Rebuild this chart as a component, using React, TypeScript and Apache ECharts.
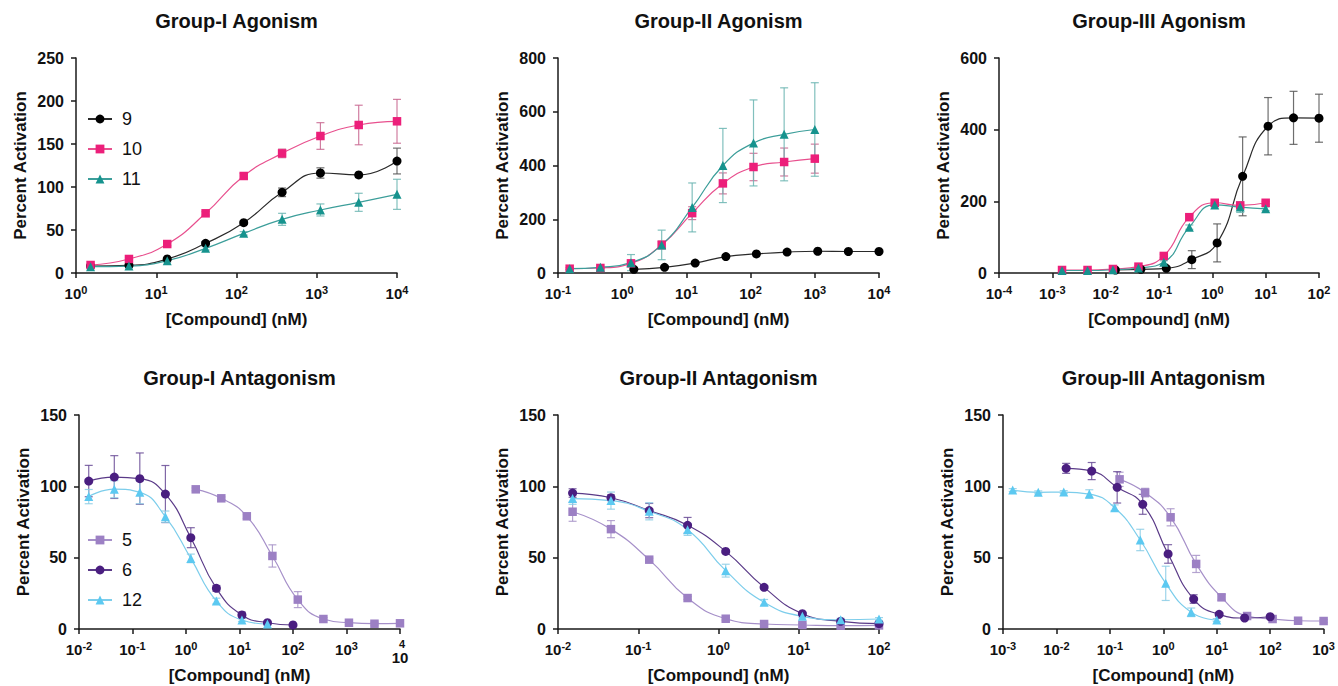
import React, { useEffect, useRef } from 'react';
import * as echarts from 'echarts';

const FONT = "'Liberation Sans', Arial, Helvetica, sans-serif";

// ---------- data ----------
// 3-fold dilution series of concentrations (nM)
const conc10000 = [1.52, 4.57, 13.7, 41.2, 123, 370, 1111, 3333, 10000];
const conc1000 = [0.152, 0.457, 1.37, 4.12, 12.3, 37.0, 111, 333, 1000];
const conc100 = [0.0152, 0.0457, 0.137, 0.412, 1.23, 3.70, 11.1, 33.3, 100];
const conc10 = [0.00152, 0.00457, 0.0137, 0.0412, 0.123, 0.370, 1.11, 3.33, 10];

const panelTitles = [
  'Group-I Agonism', 'Group-II Agonism', 'Group-III Agonism',
  'Group-I Antagonism', 'Group-II Antagonism', 'Group-III Antagonism',
];
const xMinExp = [0, -1, -4, -2, -2, -3];
const xMaxExp = [4, 4, 2, 4, 2, 3];
const yMaxes = [250, 800, 600, 150, 150, 150];
const ySteps = [50, 200, 200, 50, 50, 50];
const xAxisName = '[Compound] (nM)';
const yAxisName = 'Percent Activation';

// Group-I Agonism
const gIAgo9 = [8.1, 8.9, 16.3, 34.5, 58.5, 93.8, 116.3, 114, 130.2];
const gIAgo9Err = [1, 1, 1.5, 2, 2, 5, 6, 0, 15];
const gIAgo10 = [9.3, 16.3, 33.7, 69.4, 112.8, 139.1, 159.3, 172.1, 176.4];
const gIAgo10Err = [1, 1.5, 2, 2, 3, 5, 15.5, 23, 25.5];
const gIAgo11 = [7.4, 8.1, 14.3, 28.7, 46.1, 62.4, 73.3, 82.2, 91.5];
const gIAgo11Err = [1, 1, 1.5, 2, 2, 7, 7, 10.5, 17.5];

// Group-II Agonism
const gIIAgo9 = [13.7, 21, 37, 61, 71, 78, 81, 80, 80];
const gIIAgo9Err = [2, 2, 3, 3, 3, 3, 3, 3, 3];
const gIIAgo10 = [16, 18.7, 36, 104.5, 222.7, 333.4, 394.4, 413, 425.5];
const gIIAgo10Err = [3, 3, 8, 15, 24, 39, 51, 52, 54];
const gIIAgo11 = [16, 21, 38.6, 104.5, 244, 400, 484, 516, 534];
const gIIAgo11Err = [3, 5, 30, 55, 91, 138, 160, 173, 174];

// Group-III Agonism
const gIIIAgo9 = [8.4, 10.3, 13, 37.3, 84, 269.7, 409.6, 433, 432];
const gIIIAgo9Err = [2, 2, 3, 25, 53, 110, 80, 74, 67];
const gIIIAgo10 = [8.4, 8.4, 11.2, 17.7, 47.6, 155.8, 196, 188.5, 196];
const gIIIAgo10Err = [2, 2, 2, 3, 5, 6, 5, 5, 4];
const gIIIAgo11 = [7, 7, 9, 14, 30, 128, 190, 184, 179];
const gIIIAgo11Err = [2, 2, 2, 2, 4, 6, 5, 15, 5];

// Group-I Antagonism
const gIAnt5 = [97.9, 91.6, 79, 51.2, 20.6, 7, 4.4, 3.7, 4];
const gIAnt5Err = [1, 1, 1.5, 7.8, 5.6, 1, 1, 1, 1];
const gIAnt6 = [103.7, 106.5, 105.4, 94.6, 64, 28.5, 9.8, 4.4, 2.8];
const gIAnt6Err = [11, 15, 18, 20, 7, 2, 2, 1, 1];
const gIAnt12 = [92.8, 98, 95.8, 78.7, 49.5, 19.6, 6.3, 3.5];
const gIAnt12Err = [5, 6, 8, 4, 3, 2, 1, 1];

// Group-II Antagonism
const gIIAnt5 = [82.2, 70, 48.6, 21.7, 7.2, 3.5, 2.8, 2.3, 2.5];
const gIIAnt5Err = [6.7, 6, 1, 1, 1, 1, 1, 1, 1];
const gIIAnt6 = [95.3, 92, 83, 72.7, 54.4, 29.2, 10.7, 5.4, 3.7];
const gIIAnt6Err = [3, 2, 5, 5.5, 1, 1, 1, 1, 1];
const gIIAnt12 = [91.4, 90, 82.5, 69.6, 40.9, 18.7, 8.9, 6.5, 7];
const gIIAnt12Err = [4, 6, 6, 4, 4.5, 2, 1, 1, 1];

// Group-III Antagonism
const gIIIAnt5 = [104.9, 95.6, 78.3, 45.6, 22.2, 9.1, 7, 5.8, 5.6];
const gIIIAnt5Err = [5, 3, 6, 6, 2, 1, 1, 1, 1];
const gIIIAnt6 = [112.6, 110.7, 99.3, 87.4, 52.6, 21, 10.3, 7.7, 8.6];
const gIIIAnt6Err = [3.5, 6, 11, 7, 6.5, 3, 1, 1, 1];
const gIIIAnt12 = [97.4, 95.8, 96, 94.6, 85, 62.4, 32, 11.7, 6.3];
const gIIIAnt12Err = [1, 1, 1, 3, 2, 7.5, 12, 3, 1];

const legendTop = ['9', '10', '11'];
const legendBottom = ['5', '6', '12'];

// ---------- styles ----------
const STYLE: Record<string, { color: string; curve: string; err: string; symbol: string; size: number }> = {
  '9': { color: '#000000', curve: '#2a2a2a', err: '#555555', symbol: 'circle', size: 9 },
  '10': { color: '#EC1F7A', curve: '#E8508E', err: '#C8668F', symbol: 'rect', size: 8.5 },
  '11': { color: '#16938E', curve: '#3C9E9A', err: '#6BB5B2', symbol: 'triangle', size: 9 },
  '5': { color: '#9C80C4', curve: '#A690C9', err: '#A894C8', symbol: 'rect', size: 8.5 },
  '6': { color: '#4A1E80', curve: '#5A3A88', err: '#6A4C96', symbol: 'circle', size: 9 },
  '12': { color: '#5CC9F1', curve: '#7CCDEB', err: '#8CCDE5', symbol: 'triangle', size: 9 },
};

type SeriesDef = { name: string; conc: number[]; mean: number[]; err: number[] };

const panels: SeriesDef[][] = [
  [
    { name: '9', conc: conc10000, mean: gIAgo9, err: gIAgo9Err },
    { name: '10', conc: conc10000, mean: gIAgo10, err: gIAgo10Err },
    { name: '11', conc: conc10000, mean: gIAgo11, err: gIAgo11Err },
  ],
  [
    { name: '9', conc: conc10000, mean: gIIAgo9, err: gIIAgo9Err },
    { name: '10', conc: conc1000, mean: gIIAgo10, err: gIIAgo10Err },
    { name: '11', conc: conc1000, mean: gIIAgo11, err: gIIAgo11Err },
  ],
  [
    { name: '9', conc: conc100, mean: gIIIAgo9, err: gIIIAgo9Err },
    { name: '10', conc: conc10, mean: gIIIAgo10, err: gIIIAgo10Err },
    { name: '11', conc: conc10, mean: gIIIAgo11, err: gIIIAgo11Err },
  ],
  [
    { name: '5', conc: conc10000, mean: gIAnt5, err: gIAnt5Err },
    { name: '6', conc: conc100, mean: gIAnt6, err: gIAnt6Err },
    { name: '12', conc: conc100, mean: gIAnt12, err: gIAnt12Err },
  ],
  [
    { name: '5', conc: conc100, mean: gIIAnt5, err: gIIAnt5Err },
    { name: '6', conc: conc100, mean: gIIAnt6, err: gIIAnt6Err },
    { name: '12', conc: conc100, mean: gIIAnt12, err: gIIAnt12Err },
  ],
  [
    { name: '5', conc: conc1000, mean: gIIIAnt5, err: gIIIAnt5Err },
    { name: '6', conc: conc100, mean: gIIIAnt6, err: gIIIAnt6Err },
    { name: '12', conc: conc10, mean: gIIIAnt12, err: gIIIAnt12Err },
  ],
];

const GRIDS = [
  { left: 76, top: 58, width: 321, height: 215 },
  { left: 558, top: 58, width: 321, height: 215 },
  { left: 999, top: 58, width: 320, height: 215 },
  { left: 79, top: 415, width: 321, height: 214 },
  { left: 558, top: 415, width: 321, height: 214 },
  { left: 1003, top: 415, width: 321, height: 214 },
];

function errRender(color: string) {
  return (params: any, api: any) => {
    const x = api.value(0);
    const lo = api.value(1);
    const hi = api.value(2);
    if (hi - lo <= 0) return null;
    const a = api.coord([x, hi]);
    const b = api.coord([x, lo]);
    const w = 4;
    const style = { stroke: color, lineWidth: 1.2, opacity: 0.85 };
    return {
      type: 'group',
      children: [
        { type: 'line', shape: { x1: a[0], y1: a[1], x2: b[0], y2: b[1] }, style },
        { type: 'line', shape: { x1: a[0] - w, y1: a[1], x2: a[0] + w, y2: a[1] }, style },
        { type: 'line', shape: { x1: b[0] - w, y1: b[1], x2: b[0] + w, y2: b[1] }, style },
      ],
    };
  };
}

function buildOption() {
  const axisColor = '#1a1a1a';
  const grid = GRIDS.map((g) => ({ ...g, containLabel: false }));
  const title = panelTitles.map((t, i) => ({
    text: t,
    left: GRIDS[i].left + GRIDS[i].width / 2,
    top: i < 3 ? 11 : 368,
    padding: 0,
    textAlign: 'center',
    textStyle: { fontFamily: FONT, fontSize: 20, fontWeight: 'bold', color: '#111' },
  }));
  const xAxis = panelTitles.map((_, i) => ({
    type: 'log',
    logBase: 10,
    gridIndex: i,
    min: Math.pow(10, xMinExp[i]),
    max: Math.pow(10, xMaxExp[i]),
    interval: 1,
    name: xAxisName,
    nameLocation: 'middle',
    nameGap: 38,
    nameTextStyle: { fontFamily: FONT, fontSize: 17, fontWeight: 'bold', color: '#111' },
    axisLine: { show: true, lineStyle: { color: axisColor, width: 1.5 } },
    axisTick: { show: true, length: 5, lineStyle: { color: axisColor, width: 1.5 } },
    minorTick: { show: false },
    splitLine: { show: false },
    axisLabel: {
      margin: 11,
      fontFamily: FONT,
      fontSize: 15,
      fontWeight: 'bold',
      color: '#111',
      formatter: (v: number) => {
        const e = Math.round(Math.log10(v));
        if (i === 3 && e === 4) return '{t|4}\n{b|10}';
        return '{b|10}{s|' + e + '}';
      },
      rich: {
        b: { fontFamily: FONT, fontSize: 15, fontWeight: 'bold', color: '#111', lineHeight: 17, verticalAlign: 'bottom' },
        s: { fontFamily: FONT, fontSize: 11, fontWeight: 'bold', color: '#111', lineHeight: 17, verticalAlign: 'top', padding: [0, 0, 6, 0] },
        t: { fontFamily: FONT, fontSize: 11, fontWeight: 'bold', color: '#111', lineHeight: 8, padding: [0, 0, 0, 4] },
      },
    },
  }));
  const yAxis = panelTitles.map((_, i) => ({
    type: 'value',
    gridIndex: i,
    min: 0,
    max: yMaxes[i],
    interval: ySteps[i],
    name: yAxisName,
    nameLocation: 'middle',
    nameGap: 47,
    nameTextStyle: { fontFamily: FONT, fontSize: 17, fontWeight: 'bold', color: '#111' },
    axisLine: { show: true, lineStyle: { color: axisColor, width: 1.5 } },
    axisTick: { show: true, length: 5, lineStyle: { color: axisColor, width: 1.5 } },
    splitLine: { show: false },
    axisLabel: { margin: 12, fontFamily: FONT, fontSize: 16, fontWeight: 'bold', color: '#111' },
  }));

  const series: any[] = [];
  panels.forEach((defs, p) => {
    defs.forEach((d) => {
      const st = STYLE[d.name];
      series.push({
        type: 'custom',
        name: d.name + ' error',
        xAxisIndex: p,
        yAxisIndex: p,
        silent: true,
        clip: false,
        z: 2,
        renderItem: errRender(st.err),
        data: d.conc.slice(0, d.mean.length).map((c, k) => [c, d.mean[k] - d.err[k], d.mean[k] + d.err[k]]),
      });
      series.push({
        type: 'line',
        name: d.name,
        xAxisIndex: p,
        yAxisIndex: p,
        z: 3,
        smooth: 0.5,
        symbol: st.symbol,
        symbolSize: st.size,
        showSymbol: true,
        itemStyle: { color: st.color, borderWidth: 0 },
        lineStyle: { color: st.curve, width: 1.2 },
        data: d.conc.slice(0, d.mean.length).map((c, k) => [c, d.mean[k]]),
      });
    });
  });

  const legendCommon = {
    orient: 'vertical',
    left: 82,
    itemWidth: 24,
    itemHeight: 11,
    itemGap: 12,
    selectedMode: false,
    textStyle: { fontFamily: FONT, fontSize: 18, color: '#111', padding: [0, 0, 0, 5] },
  };

  return {
    animation: false,
    backgroundColor: '#ffffff',
    title,
    grid,
    xAxis,
    yAxis,
    legend: [
      { ...legendCommon, top: 105, data: legendTop },
      { ...legendCommon, top: 526, data: legendBottom },
    ],
    series,
  };
}

export default function App() {
  const ref = useRef<HTMLDivElement>(null);
  useEffect(() => {
    if (!ref.current) return;
    const chart = echarts.init(ref.current, undefined, { renderer: 'svg' });
    chart.setOption(buildOption() as any);
    return () => chart.dispose();
  }, []);
  return (
    <div
      ref={ref}
      style={{ position: 'absolute', left: 0, top: 0, width: 1338, height: 686, background: '#fff' }}
    />
  );
}
